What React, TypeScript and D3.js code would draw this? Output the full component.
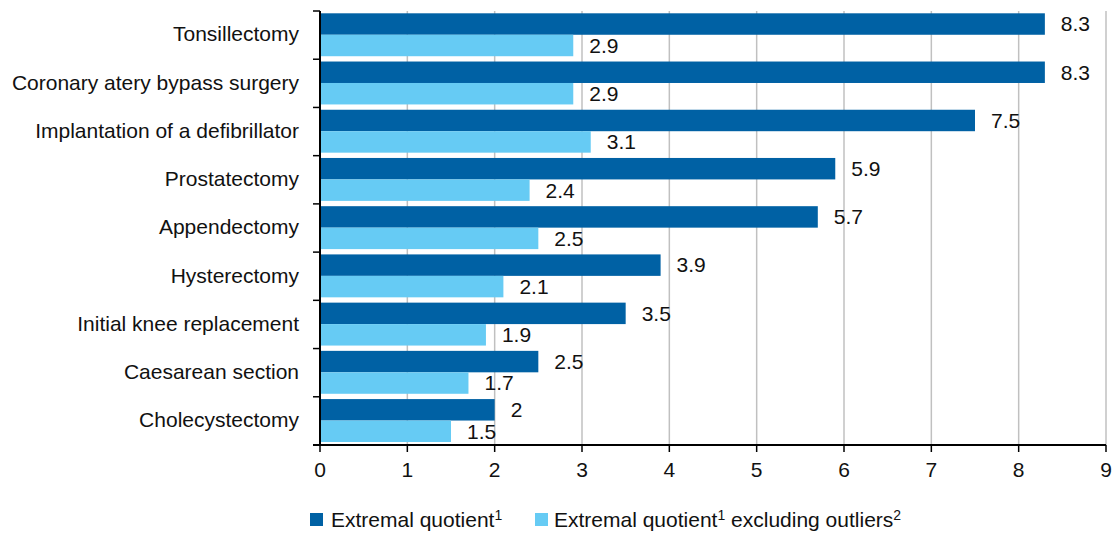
import React from 'react';
import * as d3 from 'd3';

const categories = [
  'Tonsillectomy',
  'Coronary atery bypass surgery',
  'Implantation of a defibrillator',
  'Prostatectomy',
  'Appendectomy',
  'Hysterectomy',
  'Initial knee replacement',
  'Caesarean section',
  'Cholecystectomy',
];
const extremal = [8.3, 8.3, 7.5, 5.9, 5.7, 3.9, 3.5, 2.5, 2];
const excludingOutliers = [2.9, 2.9, 3.1, 2.4, 2.5, 2.1, 1.9, 1.7, 1.5];
const xTicks = [0, 1, 2, 3, 4, 5, 6, 7, 8, 9];

const DARK = '#0061a4';
const LIGHT = '#66cbf4';
const FONT = '"Liberation Sans", Arial, sans-serif';
const FS = 21;

export default function App() {
  const width = 1117;
  const height = 534;
  const left = 320;
  const right = 1106;
  const top = 11;
  const bottom = 445;

  const x = d3.scaleLinear().domain([0, 9]).range([left, right]);
  const y = d3.scaleBand().domain(categories).range([top, bottom]);
  const inner = d3.scaleBand().domain(['a', 'b']).range([2.3, y.bandwidth() - 3]);

  const boundaries = d3.range(categories.length + 1).map(i => top + i * y.step());

  return (
    <svg width={width} height={height} style={{ position: 'absolute', left: 0, top: 0, fontFamily: FONT }}>
      {/* grid */}
      {xTicks.filter(t => t > 0).map(t => (
        <line key={'g' + t} x1={x(t)} x2={x(t)} y1={top} y2={bottom} stroke="#c0c0c0" strokeWidth={1.5} />
      ))}

      {/* bars */}
      {categories.map((c, i) => {
        const y0 = y(c)!;
        return (
          <g key={c}>
            <rect x={x(0)} y={y0 + inner('a')!} width={x(extremal[i]) - x(0)} height={inner.bandwidth()} fill={DARK} />
            <rect x={x(0)} y={y0 + inner('b')!} width={x(excludingOutliers[i]) - x(0)} height={inner.bandwidth()} fill={LIGHT} />
            <text x={x(extremal[i]) + 16} y={y0 + inner('a')! + inner.bandwidth() / 2} dy="0.35em" fontSize={FS} fill="#111">
              {extremal[i]}
            </text>
            <text x={x(excludingOutliers[i]) + 16} y={y0 + inner('b')! + inner.bandwidth() / 2} dy="0.35em" fontSize={FS} fill="#111">
              {excludingOutliers[i]}
            </text>
            <text x={left - 21} y={y0 + y.bandwidth() / 2 - 1} dy="0.35em" textAnchor="end" fontSize={FS} fill="#111">
              {c}
            </text>
          </g>
        );
      })}

      {/* y axis */}
      <line x1={left} x2={left} y1={top} y2={bottom} stroke="#000" strokeWidth={2} />
      {boundaries.map((b, i) => (
        <line key={'yt' + i} x1={left - 7} x2={left} y1={b} y2={b} stroke="#000" strokeWidth={1.5} />
      ))}

      {/* x axis */}
      <line x1={left - 7} x2={right} y1={bottom} y2={bottom} stroke="#000" strokeWidth={2} />
      {xTicks.map(t => (
        <g key={'xt' + t}>
          <line x1={x(t)} x2={x(t)} y1={bottom} y2={bottom + 7} stroke="#000" strokeWidth={1.5} />
          <text x={x(t)} y={bottom + 25} dy="0.35em" textAnchor="middle" fontSize={FS} fill="#111">
            {t}
          </text>
        </g>
      ))}

      {/* legend */}
      <rect x={310} y={513} width={13} height={13} fill={DARK} />
      <text x={331} y={519.5} dy="0.35em" fontSize={FS} fill="#111">
        Extremal quotient<tspan fontSize={14} dy="-7">1</tspan>
      </text>
      <rect x={535} y={513} width={13} height={13} fill={LIGHT} />
      <text x={554} y={519.5} dy="0.35em" fontSize={FS} fill="#111">
        Extremal quotient<tspan fontSize={14} dy="-7">1</tspan>
        <tspan dy="7"> excluding outliers</tspan>
        <tspan fontSize={14} dy="-7">2</tspan>
      </text>
    </svg>
  );
}
